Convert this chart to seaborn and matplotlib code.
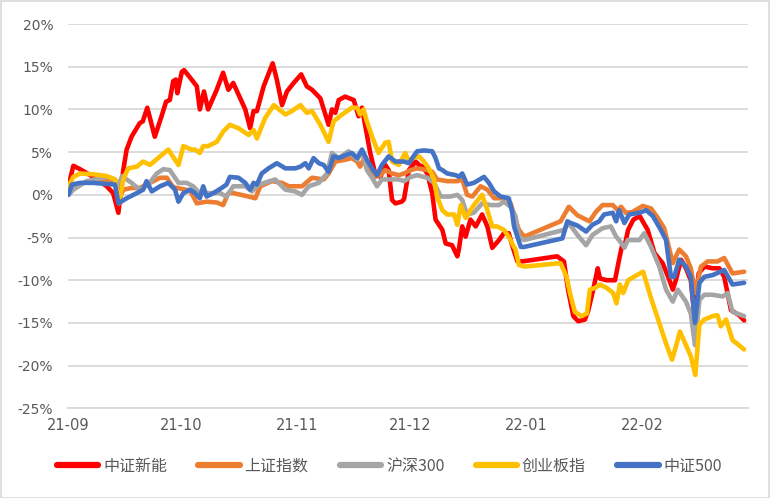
import numpy as np
import pandas as pd
import matplotlib
matplotlib.use("Agg")
import matplotlib.pyplot as plt
import matplotlib.dates as mdates
from matplotlib.patches import Rectangle
from matplotlib.lines import Line2D
import seaborn as sns

# ---------------- data (days since 2021-09-01, return in %) ----------------
series_names = ["中证新能", "上证指数", "沪深300", "创业板指", "中证500"]
colors = ["#FF0000", "#ED7D31", "#A5A5A5", "#FFC000", "#4472C4"]

red_day = [0, 1.3, 3.1, 6.6, 10.2, 11.9, 13.3, 14.6, 15.5, 16.8, 19.0, 19.8, 21.0, 23.0, 24.8,
           26.0, 27.0, 27.9, 28.6, 29.0, 30.2, 30.8, 32.8, 34.2, 35.0, 36.1, 37.2, 39.5, 41.2,
           42.6, 43.9, 47.1, 48.4, 49.3, 50.2, 52.0, 54.4, 55.5, 56.9, 58.2, 60.0, 62.0, 63.5,
           64.9, 67.1, 69.3, 70.2, 71.1, 72.0, 73.7, 76.0, 77.3, 78.2, 79.1, 80.4, 81.7, 83.1,
           84.4, 85.3, 86.2, 87.1, 88.8, 89.4, 90.7, 92.5, 93.4, 94.3, 95.6, 96.9, 97.8, 98.7,
           99.6, 100.5, 102.2, 103.6, 104.0, 104.9, 105.8, 107.1, 108.5, 110.2, 111.6, 112.9,
           114.7, 116.0, 117.3, 118.2, 119.6, 120.9, 130.2, 132.0, 133.1, 134.5, 135.8, 137.6,
           138.5, 139.8, 141.0, 141.6, 143.4, 145.6, 146.5, 147.4, 148.3, 149.1, 150.5, 152.2,
           154.3, 156.1, 158.3, 160.1, 161.0, 161.8, 163.2, 164.5, 165.8, 166.7, 167.9, 169.4,
           171.6, 173.4, 174.7, 176.5, 178.7, 180.0]
red_val = [1.0, 3.4, 3.0, 2.1, 1.0, 0.2, -2.1, 2.9, 5.3, 6.8, 8.4, 8.6, 10.2, 6.8, 9.2,
           10.9, 11.1, 13.3, 13.5, 11.9, 14.4, 14.6, 13.5, 12.7, 10.0, 12.1, 10.0, 12.3, 14.3,
           12.3, 13.1, 10.0, 7.8, 9.8, 9.8, 12.7, 15.4, 13.5, 10.5, 12.1, 13.1, 14.1, 12.7,
           12.3, 11.3, 8.2, 10.0, 9.6, 11.1, 11.5, 11.1, 9.2, 10.2, 8.0, 4.9, 2.5, 2.1,
           3.5, 2.9, -0.6, -1.0, -0.8, -0.5, 2.9, 3.9, 3.5, 3.3, 2.5, 0.2, -2.9, -3.5,
           -4.1, -5.7, -5.9, -7.2, -6.4, -3.7, -4.9, -2.9, -3.7, -2.3, -3.7, -6.2,
           -5.3, -4.5, -4.5, -5.9, -7.8, -7.8, -7.2, -7.8, -11.1, -14.2, -14.8, -14.6,
           -13.5, -11.1, -8.6, -9.8, -10.0, -10.0, -8.0, -6.1, -5.7, -4.1, -2.9, -2.5,
           -4.1, -6.8, -8.0, -10.0, -11.1, -10.0, -7.6, -8.6, -10.0, -13.9, -9.2, -8.4,
           -8.6, -8.6, -9.6, -13.5, -14.1, -14.7]

orange_day = [0, 1.3, 4.8, 10.2, 12.4, 13.5, 14.6, 16.8, 19.0, 21.3, 24.4, 26.2, 27.9, 32.4,
              34.2, 36.8, 39.5, 41.2, 42.6, 43.9, 48.0, 49.8, 51.1, 54.2, 56.9, 58.7, 62.2,
              64.9, 68.0, 69.3, 71.1, 73.7, 75.5, 76.9, 77.7, 78.6, 80.0, 81.7, 83.1, 84.4,
              86.2, 88.0, 89.4, 91.2, 92.9, 95.6, 96.9, 98.2, 100.9, 103.6, 104.9, 106.2,
              107.6, 109.8, 111.6, 113.4, 116.0, 117.8, 119.1, 120.0, 121.4, 131.1, 133.3,
              135.6, 138.8, 140.5, 142.3, 145.0, 146.3, 147.2, 148.5, 150.3, 153.0, 155.2,
              157.0, 158.7, 161.0, 162.7, 164.5, 165.8, 167.0, 168.5, 170.3, 172.9, 174.7,
              176.9, 180.0]
orange_val = [0.0, 1.0, 1.5, 1.8, 1.6, -0.5, 0.6, 0.8, 0.8, 1.3, 2.0, 2.0, 0.9, 0.5,
              -1.0, -0.8, -0.9, -1.2, 0.2, 0.2, -0.2, -0.4, 1.0, 1.6, 1.4, 1.0, 1.0,
              2.0, 1.8, 2.5, 3.9, 4.1, 4.3, 3.9, 3.3, 4.1, 3.1, 2.1, 2.3, 2.9,
              2.5, 2.3, 2.5, 2.9, 3.1, 2.9, 2.7, 1.8, 1.6, 1.6, 1.8, 0.0,
              -0.2, 1.0, 0.6, -0.4, -0.4, -1.0, -2.9, -4.1, -4.9, -3.1, -1.4,
              -2.4, -3.1, -2.0, -1.2, -1.2, -1.8, -1.4, -2.1, -2.0, -1.3, -1.6,
              -2.7, -3.9, -8.0, -6.4, -7.2, -8.6, -11.5, -8.4, -7.8, -7.8, -7.4,
              -9.2, -9.0]

gray_day = [0, 1.3, 4.8, 10.2, 12.4, 13.2, 14.3, 16.8, 19.0, 21.3, 23.5, 25.3, 27.0, 29.3,
            31.5, 33.2, 35.0, 37.7, 40.4, 42.1, 43.9, 47.1, 48.9, 50.7, 55.1, 57.8, 60.4,
            62.2, 64.0, 66.7, 68.9, 70.2, 72.0, 74.6, 76.9, 78.2, 79.5, 80.9, 82.2, 83.5,
            88.0, 89.4, 91.2, 92.9, 95.6, 97.4, 99.2, 101.8, 103.6, 104.9, 106.2, 108.0,
            110.2, 112.5, 114.7, 116.0, 117.8, 119.1, 120.0, 121.4, 132.0, 133.3, 135.6,
            137.9, 139.6, 142.3, 144.5, 145.9, 146.7, 148.1, 149.0, 152.1, 153.4, 155.2,
            157.4, 159.2, 161.0, 162.3, 164.5, 165.8, 166.9, 168.1, 169.4, 171.6, 174.3,
            175.6, 176.9, 180.0]
gray_val = [0.0, 0.6, 1.6, 2.1, 1.8, 1.0, 2.2, 1.4, 0.6, 1.2, 2.5, 3.0, 2.9, 1.4,
            1.4, 1.0, 0.2, 0.2, 0.2, -0.2, 1.0, 1.0, 0.4, 1.2, 1.8, 0.6, 0.4,
            0.0, 1.0, 1.4, 2.5, 4.9, 4.3, 5.1, 4.1, 5.1, 2.9, 2.0, 1.0, 1.8,
            1.8, 1.6, 2.1, 2.3, 2.0, 1.4, -0.2, -0.2, 0.0, -0.6, -2.3, -2.1,
            -1.0, -1.2, -1.2, -0.8, -1.4, -2.5, -4.9, -5.3, -4.1, -3.3, -4.7,
            -5.9, -4.7, -3.9, -3.7, -4.9, -5.3, -6.2, -5.3, -5.3, -4.5, -6.1,
            -8.4, -11.1, -12.5, -11.1, -12.5, -13.9, -17.6, -12.3, -11.7, -11.7, -11.9,
            -11.5, -13.7, -14.2]

yellow_day = [0, 1.3, 3.1, 6.6, 10.2, 12.4, 13.5, 14.6, 15.9, 18.2, 19.9, 21.7, 24.4, 26.6,
              29.3, 30.6, 32.8, 33.7, 35.0, 35.9, 37.2, 39.5, 41.2, 43.0, 45.3, 48.0, 49.3,
              50.2, 52.4, 54.7, 57.8, 59.5, 61.8, 63.5, 64.9, 67.1, 69.3, 70.6, 72.9, 75.5,
              76.9, 77.7, 78.6, 79.5, 80.9, 82.6, 84.4, 85.3, 86.2, 88.0, 89.7, 90.7, 91.6,
              93.4, 94.7, 96.0, 97.4, 98.2, 99.6, 100.9, 102.7, 103.6, 104.5, 105.8, 108.0,
              110.2, 111.6, 112.9, 114.2, 116.0, 117.3, 118.2, 119.1, 120.0, 121.4, 131.1,
              132.7, 133.6, 134.9, 136.7, 138.1, 138.9, 140.3, 141.6, 143.4, 145.1, 146.0,
              146.9, 147.8, 149.1, 151.4, 153.1, 155.2, 157.4, 159.2, 160.8, 161.8, 162.9,
              164.5, 165.8, 167.0, 168.1, 169.4, 171.6, 172.9, 173.8, 175.2, 176.9, 180.0]
yellow_val = [1.0, 2.1, 2.5, 2.4, 2.2, 1.8, -1.0, 1.8, 3.1, 3.3, 3.9, 3.5, 4.5, 5.3,
              3.5, 5.7, 5.3, 5.3, 4.9, 5.7, 5.7, 6.2, 7.4, 8.2, 7.8, 7.0, 7.6,
              6.6, 9.0, 10.5, 9.4, 9.8, 10.5, 9.6, 9.8, 8.2, 6.2, 8.6, 9.4, 10.2,
              10.2, 9.4, 10.0, 8.6, 6.8, 4.9, 6.1, 6.2, 3.9, 3.5, 4.9, 3.9, 4.3,
              4.5, 3.9, 3.1, 1.8, -0.2, -1.8, -2.3, -2.3, -3.5, -1.2, -2.7, -1.2,
              0.0, -1.8, -3.7, -3.7, -4.1, -4.9, -5.7, -6.4, -8.2, -8.4, -8.0,
              -9.6, -11.5, -13.7, -14.2, -13.9, -11.1, -10.9, -10.5, -10.9, -11.5, -12.7,
              -10.5, -11.5, -10.0, -9.4, -9.0, -12.1, -15.0, -17.4, -19.3, -17.8, -16.0,
              -17.6, -18.9, -21.1, -15.2, -14.6, -14.2, -14.1, -15.4, -14.6, -17.0, -18.1]

blue_day = [0, 0.9, 3.1, 6.6, 9.3, 12.4, 13.3, 15.5, 18.2, 19.9, 20.8, 22.2, 24.4, 26.6,
            28.4, 29.3, 30.6, 32.4, 33.7, 35.0, 35.9, 36.8, 38.6, 40.8, 42.1, 43.0, 45.3,
            47.1, 48.4, 49.3, 50.2, 51.5, 53.3, 55.5, 57.8, 60.4, 61.8, 63.1, 64.0, 65.3,
            66.7, 68.0, 69.3, 70.6, 72.0, 74.2, 75.5, 76.9, 78.2, 79.5, 80.9, 82.2, 83.5,
            85.3, 87.1, 89.4, 90.7, 91.6, 92.9, 94.7, 96.9, 97.8, 98.7, 99.6, 100.9, 103.2,
            104.0, 104.9, 106.2, 108.0, 110.7, 112.0, 113.4, 115.1, 117.3, 118.2, 118.7,
            119.6, 120.5, 121.4, 131.6, 132.9, 133.8, 135.6, 137.9, 139.6, 141.4, 142.7,
            145.0, 145.9, 146.7, 148.1, 149.4, 152.1, 153.9, 155.7, 157.8, 159.2, 160.5,
            161.4, 162.7, 164.5, 165.8, 166.9, 168.1, 169.4, 171.6, 174.7, 176.9, 180.0]
blue_val = [0.0, 1.2, 1.4, 1.4, 1.3, 1.2, -1.0, -0.4, 0.2, 0.6, 1.6, 0.4, 1.0, 1.4,
            0.6, -0.8, 0.2, 0.6, 0.2, -0.4, 1.0, -0.2, 0.2, 0.8, 1.2, 2.1, 2.0,
            1.4, 0.6, 1.4, 1.2, 2.5, 3.1, 3.7, 3.1, 3.1, 3.3, 3.7, 3.1, 4.3,
            3.7, 3.5, 2.7, 4.5, 4.3, 4.7, 4.9, 4.3, 5.3, 4.1, 3.1, 2.3, 3.5,
            4.5, 3.9, 3.9, 3.7, 4.3, 5.1, 5.2, 5.1, 4.3, 3.1, 2.9, 2.5, 2.3,
            2.1, 2.5, 1.2, 1.4, 2.1, 1.4, 0.4, -0.2, -0.4, -2.0, -3.7,
            -4.9, -6.1, -6.1, -5.1, -3.1, -3.3, -3.6, -4.3, -3.5, -3.1, -2.3,
            -2.1, -3.1, -1.8, -3.3, -2.3, -2.1, -1.8, -2.5, -4.1, -5.3, -9.6,
            -9.6, -7.6, -8.4, -9.6, -15.0, -10.3, -9.6, -9.4, -8.8, -10.5, -10.3]

y_ticks = [20, 15, 10, 5, 0, -5, -10, -15, -20, -25]
x_tick_months = ["2021-09-01", "2021-10-01", "2021-11-01", "2021-12-01", "2022-01-01", "2022-02-01"]
start_date = "2021-09-01"
end_date = "2022-03-01"

# ---------------- build long table ----------------
base = pd.Timestamp(start_date)
frames = []
for name, d, v in zip(series_names,
                      [red_day, orange_day, gray_day, yellow_day, blue_day],
                      [red_val, orange_val, gray_val, yellow_val, blue_val]):
    frames.append(pd.DataFrame({
        "date": base + pd.to_timedelta(np.array(d), unit="D"),
        "value": v,
        "series": name,
    }))
df = pd.concat(frames, ignore_index=True)

# ---------------- styling ----------------
sns.set_theme(style="white")
plt.rcParams["font.family"] = ["Noto Sans CJK SC", "DejaVu Sans"]
plt.rcParams["axes.unicode_minus"] = False

fig = plt.figure(figsize=(7.71, 4.98), dpi=100)
fig.patch.set_facecolor("white")
ax = fig.add_axes([0.0888, 0.180, 0.8812, 0.7718])

sns.lineplot(data=df, x="date", y="value", hue="series", hue_order=series_names,
             palette=dict(zip(series_names, colors)), estimator=None, sort=False,
             linewidth=3.3, ax=ax, legend=False)
for ln in ax.lines:
    ln.set_solid_joinstyle("round")
    ln.set_solid_capstyle("round")

ax.set_xlim(pd.Timestamp(start_date), pd.Timestamp(end_date))
ax.set_ylim(-25, 20)
ax.set_yticks(y_ticks)
ax.set_yticklabels([f"{t}%" for t in y_ticks])
ax.set_xticks([pd.Timestamp(m) for m in x_tick_months])
ax.xaxis.set_major_formatter(mdates.DateFormatter("%y-%m"))

ax.grid(axis="y", color="#d9d9d9", linewidth=1.3)
ax.grid(axis="x", visible=False)
ax.set_axisbelow(True)
for s in ["top", "right", "left"]:
    ax.spines[s].set_visible(False)
ax.spines["bottom"].set_color("#d9d9d9")
ax.spines["bottom"].set_linewidth(1.3)
ax.tick_params(axis="y", length=0, pad=11, labelsize=10, labelcolor="#595959")
ax.tick_params(axis="x", length=4, width=1.0, color="#d9d9d9", pad=3,
               labelsize=10.5, labelcolor="#595959", direction="out")
for lab in ax.get_xticklabels() + ax.get_yticklabels():
    lab.set_fontfamily("DejaVu Sans")
ax.set_xlabel("")
ax.set_ylabel("")

handles = [Line2D([0], [0], color=c, lw=4.5, solid_capstyle="round") for c in colors]
leg = fig.legend(handles, series_names, loc="center", bbox_to_anchor=(0.505, 0.064),
                 ncol=5, frameon=False, fontsize=11.5, handlelength=2.6,
                 handletextpad=0.3, columnspacing=1.95, labelcolor="#595959")

fig.patches.append(Rectangle((0.001, 0.001), 0.997, 0.997, transform=fig.transFigure,
                             fill=False, edgecolor="#d9d9d9", linewidth=1.2))

fig.savefig("out.png", dpi=100, facecolor="white")
